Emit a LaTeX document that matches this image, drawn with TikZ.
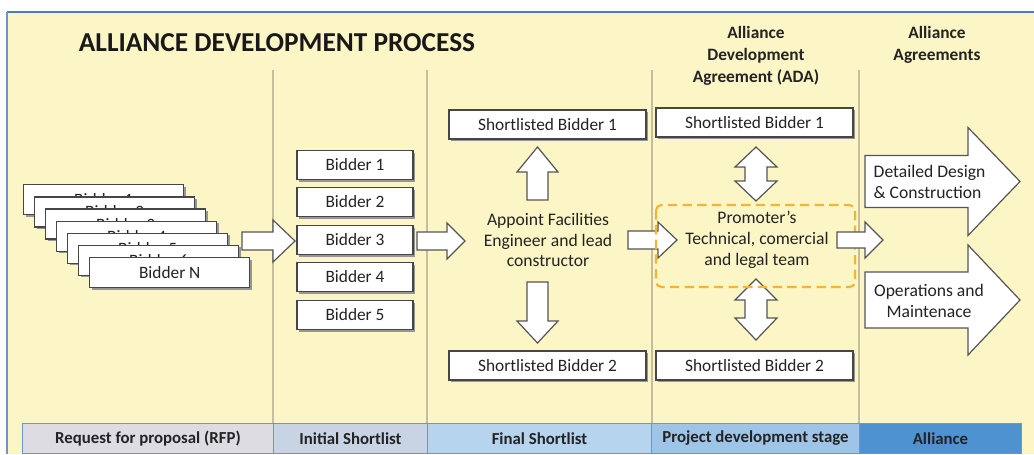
\documentclass[tikz,border=0pt]{standalone}
\usepackage{fontspec}
\setmainfont{Carlito}
\usetikzlibrary{calc}
\definecolor{bgyellow}{RGB}{252,246,198}
\definecolor{divline}{RGB}{196,190,158}
\definecolor{boxedge}{RGB}{70,70,70}
\definecolor{shadowc}{RGB}{150,150,150}
\definecolor{arrowedge}{RGB}{85,85,85}
\definecolor{framblue}{RGB}{74,126,187}
\definecolor{bandA}{RGB}{220,220,226}
\definecolor{bandB}{RGB}{200,212,228}
\definecolor{bandC}{RGB}{182,212,238}
\definecolor{bandD}{RGB}{158,196,232}
\definecolor{bandE}{RGB}{78,146,209}
\definecolor{bandedge}{RGB}{110,150,196}
\definecolor{dashorange}{RGB}{244,180,52}
\definecolor{txt}{RGB}{35,35,35}
\tikzset{
  x=0.75pt, y=-0.75pt,
  bidbox/.style={draw=boxedge, fill=white, line width=1.1pt, minimum width=116*0.75pt, minimum height=29*0.75pt, inner sep=0pt, font=\fontsize{13}{15}\selectfont, text=txt},
  stackbox/.style={draw=boxedge, fill=white, line width=1.1pt, minimum width=160*0.75pt, minimum height=30*0.75pt, inner sep=0pt, font=\fontsize{13}{15}\selectfont, text=txt, anchor=north west},
  slbox/.style={draw=boxedge, fill=white, line width=1.1pt, minimum width=197*0.75pt, minimum height=29*0.75pt, inner sep=0pt, font=\fontsize{13}{15}\selectfont, text=txt},
  blockarrow/.style={draw=arrowedge, fill=white, line width=0.9pt, line join=miter},
  divider/.style={draw=divline, line width=1.3pt},
  bandseg/.style={draw=bandedge, line width=0.7pt, minimum height=30*0.75pt, inner sep=0pt, font=\bfseries\fontsize{12.6}{14}\selectfont, text=txt, anchor=north west},
  header/.style={align=center, font=\bfseries\fontsize{13}{16.5}\selectfont, text=txt},
  bodytext/.style={align=center, font=\fontsize{13.2}{15.6}\selectfont, text=txt}
}
% right block arrow: x1 (shaft start), xb (head base), xt (tip), yc, shaft half, head half
\newcommand{\rarrow}[6]{\path[blockarrow] (#1,#4-#5) -- (#2,#4-#5) -- (#2,#4-#6) -- (#3,#4) -- (#2,#4+#6) -- (#2,#4+#5) -- (#1,#4+#5) -- cycle;}
% vertical arrow: xc, y1 (shaft end), yb (head base), yt (tip), shaft half, head half
\newcommand{\varrow}[6]{\path[blockarrow] (#1-#5,#2) -- (#1-#5,#3) -- (#1-#6,#3) -- (#1,#4) -- (#1+#6,#3) -- (#1+#5,#3) -- (#1+#5,#2) -- cycle;}
% double vertical arrow: xc, ytop tip, ytop base, ybot base, ybot tip, shaft half, head half
\newcommand{\dvarrow}[7]{\path[blockarrow] (#1,#2) -- (#1+#7,#3) -- (#1+#6,#3) -- (#1+#6,#4) -- (#1+#7,#4) -- (#1,#5) -- (#1-#7,#4) -- (#1-#6,#4) -- (#1-#6,#3) -- (#1-#7,#3) -- cycle;}
\begin{document}
\begin{tikzpicture}
\useasboundingbox (0,0) rectangle (1034,454);
% background
\fill[white] (0,0) rectangle (1034,454);
\fill[bgyellow] (7,12) rectangle (1034,454);
\draw[framblue, line width=1.2pt] (7,12) -- (1034,12);
\draw[bandedge, line width=0.8pt] (7,12) -- (7,454);
% title
\node[font=\bfseries\fontsize{20.5}{24}\selectfont, text=black!90] (title) at (277,43) {ALLIANCE DEVELOPMENT PROCESS};
% headers
\node[header] (hADA) at (756,56) {Alliance\\Development\\Agreement (ADA)};
\node[header] (hAA) at (937,45) {Alliance\\Agreements};
% dividers
\foreach \xx in {273,427,652,859} \draw[divider] (\xx,70) -- (\xx,423);
% bidder stack
\foreach \k/\lab in {0/Bidder 1,1/Bidder 2,2/Bidder 3,3/Bidder 4,4/Bidder 5,5/Bidder 6,6/Bidder N} {
  \fill[shadowc] (23+11*\k+2.5,184+12.17*\k+2.5) rectangle ++(160,30);
  \node[stackbox] (s\k) at (23+11*\k,184+12.17*\k) {\lab};
}
% arrow RFP -> initial
\rarrow{242}{273}{295}{241}{9}{21}
% initial shortlist boxes
\foreach \i/\yy in {1/165,2/202,3/240,4/277,5/315} {
  \fill[shadowc] (297+2,\yy-14.5+2) rectangle ++(116,29);
  \node[bidbox] (b\i) at (355,\yy) {Bidder \i};
}
% arrow initial -> final
\rarrow{417}{447}{465}{241}{9}{18}
% final shortlist
\fill[shadowc] (449+2,110+2) rectangle ++(197,29);
\node[slbox] (fs1) at (547.5,124.5) {Shortlisted Bidder 1};
\fill[shadowc] (449+2,351+2) rectangle ++(197,29);
\node[slbox] (fs2) at (547.5,365.5) {Shortlisted Bidder 2};
\node[bodytext] (appoint) at (548,240) {Appoint Facilities\\Engineer and lead\\constructor};
\varrow{537.5}{200}{172}{147}{10.5}{20.5}
\varrow{537.5}{282}{321}{343}{10.5}{20.5}
% arrow final -> ADA
\rarrow{628}{658}{677}{240}{9}{18}
% ADA column
\fill[shadowc] (656+2,108+2) rectangle ++(197,29);
\node[slbox] (as1) at (754.5,122.5) {Shortlisted Bidder 1};
\fill[shadowc] (656+2,351+2) rectangle ++(197,29);
\node[slbox] (as2) at (754.5,365.5) {Shortlisted Bidder 2};
\dvarrow{756}{147}{167}{181}{201}{11}{21}
\dvarrow{756}{279}{300}{318}{340}{11}{21}
\node[bodytext] (promoter) at (757,240) {Promoter's\\Technical, comercial\\and legal team};
\draw[dashorange, line width=1.6pt, dash pattern=on 7pt off 4pt, rounded corners=4pt] (656,205) rectangle (855,287);
\rarrow{837}{865}{883}{240}{8}{18}
% alliance arrows
\rarrow{865}{968}{1020}{181.5}{26}{54}
\rarrow{865}{968}{1020}{300}{28}{55}
\node[bodytext, align=left, anchor=west] (ddc) at (869,182) {Detailed Design\\\& Construction};
\node[bodytext] (om) at (929,301) {Operations and\\Maintenace};
% band
\node[bandseg, fill=bandA, minimum width=251*0.75pt] (r1) at (22,423) {Request for proposal (RFP)};
\node[bandseg, fill=bandB, minimum width=154*0.75pt] (r2) at (273,423) {Initial Shortlist};
\node[bandseg, fill=bandC, minimum width=224*0.75pt] (r3) at (427,423) {Final Shortlist};
\node[bandseg, fill=bandD, minimum width=208*0.75pt] (r4) at (651,423) {Project development stage};
\node[bandseg, fill=bandE, minimum width=162*0.75pt] (r5) at (859,423) {Alliance};
\end{tikzpicture}
\end{document}
